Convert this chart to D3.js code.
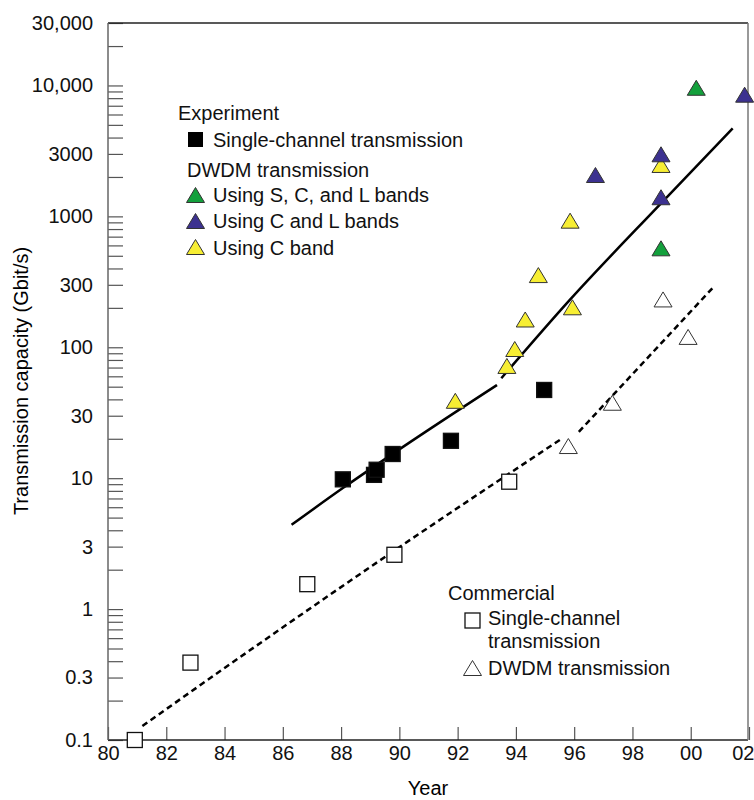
<!DOCTYPE html>
<html>
<head>
<meta charset="utf-8">
<script src="https://cdn.jsdelivr.net/npm/d3@7"></script>
<style>
  body { margin: 0; background: #fff; }
  text { font-family: "Liberation Sans", Arial, Helvetica, sans-serif; }
</style>
</head>
<body>
<svg id="chart"></svg>
<script>

// experiment, single channel (year, Gbit/s)
var expSingle = [[88.06, 9.8], [89.13, 10.6], [89.22, 11.6], [89.77, 15.3], [91.77, 19.3], [94.97, 47.2]];

// experiment, DWDM
var dwdmSCL = [[98.98, 570], [100.19, 9600]];
var dwdmCL = [[96.73, 2070], [98.98, 2980], [98.98, 1400], [101.85, 8500]];
var dwdmC = [[91.92, 39], [93.69, 72], [93.96, 97], [94.32, 163], [94.77, 356], [95.86, 927], [95.94, 202], [98.98, 2470]];

// commercial
var commSingle = [[80.92, 0.1], [82.83, 0.39], [86.84, 1.55], [89.83, 2.6], [93.77, 9.4]];
var commDWDM = [[95.8, 17.6], [97.31, 37.7], [99.05, 232], [99.91, 120]];

// trend lines
var expTrend1 = [[86.3, 4.4], [88.06, 8.4], [90.1, 17.2], [93.35, 51.5]];
var expTrend2 = [[93.5, 58], [95.85, 230], [98.98, 1257], [101.44, 4700]];
var commTrend1 = [[81.18, 0.128], [85.9, 0.7], [89.83, 2.8], [95.54, 19.8]];
var commTrend2 = [[96.16, 22.6], [100.79, 290]];

var yearTicks = [80, 82, 84, 86, 88, 90, 92, 94, 96, 98, 100, 102];
var yLabels = {0.1: "0.1", 0.3: "0.3", 1: "1", 3: "3", 10: "10", 30: "30", 100: "100",
               300: "300", 1000: "1000", 3000: "3000", 10000: "10,000", 30000: "30,000"};

var colors = { scl: "#13a03c", cl: "#3c3190", c: "#f7ee33" };

var width = 754, height = 800;

var svg = d3.select("#chart")
            .attr("width", width)
            .attr("height", height)

var xScale = d3.scaleLinear()
               .domain([80, 102])
               .range([108, 749])

var yScale = d3.scaleLog()
               .domain([0.1, 30000])
               .range([740, 23])

// every 1..9 tick of each decade
var yTicks = [];
for (var p = -1; p <= 4; p++) {
    for (var m = 1; m <= 9; m++) {
        var v = +(m * Math.pow(10, p)).toPrecision(3);
        if (v <= 30000) yTicks.push(v);
    }
}

var xAxisgen = d3.axisBottom(xScale)
                 .tickValues(yearTicks)
                 .tickSizeInner(-13)
                 .tickSizeOuter(0)
                 .tickPadding(6)
                 .tickFormat(function (d) { return String(d % 100).padStart(2, "0"); });

var yAxisgen = d3.axisLeft(yScale)
                 .tickValues(yTicks)
                 .tickSizeInner(-15)
                 .tickSizeOuter(0)
                 .tickPadding(15)
                 .tickFormat(function (d) { return yLabels[d] || ""; });

var xAxis = svg.append("g")
    .attr("transform", "translate(0,740)")
    .call(xAxisgen)

var yAxis = svg.append("g")
    .attr("transform", "translate(108,0)")
    .call(yAxisgen)

svg.selectAll(".domain").remove();
svg.selectAll(".tick line").attr("stroke", "#555").attr("stroke-width", 1.2);
svg.selectAll(".tick text").attr("fill", "#111").style("font-size", "20px");

// last year label sits at the right edge of the page
xAxis.selectAll(".tick text")
    .filter(function (d) { return d === 102; })
    .attr("text-anchor", "end")
    .attr("x", 5)

// frame
svg.append("line").attr("x1", 108).attr("x2", 748).attr("y1", 740).attr("y2", 740).attr("stroke", "#222").attr("stroke-width", 1.5);
svg.append("line").attr("x1", 108).attr("x2", 748).attr("y1", 23).attr("y2", 23).attr("stroke", "#222").attr("stroke-width", 1.5);
svg.append("line").attr("x1", 108).attr("x2", 108).attr("y1", 23).attr("y2", 740).attr("stroke", "#666").attr("stroke-width", 1.5);
svg.append("line").attr("x1", 748).attr("x2", 748).attr("y1", 23).attr("y2", 740).attr("stroke", "#777").attr("stroke-width", 1.5);

// axis titles
svg.append("text")
    .attr("x", 428)
    .attr("y", 795)
    .attr("text-anchor", "middle")
    .style("font-size", "20px")
    .text("Year")

svg.append("text")
    .attr("transform", "translate(28,381) rotate(-90)")
    .attr("text-anchor", "middle")
    .style("font-size", "20px")
    .text("Transmission capacity (Gbit/s)")

// trend lines
var line = d3.line()
             .x(function (d) { return xScale(d[0]); })
             .y(function (d) { return yScale(d[1]); })
             .curve(d3.curveMonotoneX)

;[expTrend1, expTrend2].forEach(function (t) {
    svg.append("path").attr("d", line(t)).attr("fill", "none")
       .attr("stroke", "#000").attr("stroke-width", 2.5);
});
;[commTrend1, commTrend2].forEach(function (t) {
    svg.append("path").attr("d", line(t)).attr("fill", "none")
       .attr("stroke", "#000").attr("stroke-width", 2.5)
       .attr("stroke-dasharray", "6,4");
});

function triangle(cx, cy) {
    return "M" + (cx - 9) + "," + (cy + 7.5) + "L" + cx + "," + (cy - 7.5) + "L" + (cx + 9) + "," + (cy + 7.5) + "Z";
}

function drawSquares(data, fill) {
    svg.selectAll(null)
        .data(data)
        .enter()
        .append("rect")
        .attr("x", function (d) { return xScale(d[0]) - 7.5; })
        .attr("y", function (d) { return yScale(d[1]) - 7.5; })
        .attr("width", 15)
        .attr("height", 15)
        .attr("fill", fill)
        .attr("stroke", "#111")
        .attr("stroke-width", 1.3)
}

function drawTriangles(data, fill) {
    svg.selectAll(null)
        .data(data)
        .enter()
        .append("path")
        .attr("d", function (d) { return triangle(xScale(d[0]), yScale(d[1])); })
        .attr("fill", fill)
        .attr("stroke", "#333")
        .attr("stroke-width", 1)
}

drawSquares(commSingle, "#fff");
drawTriangles(commDWDM, "#fff");
drawSquares(expSingle, "#000");
drawTriangles(dwdmC, colors.c);
drawTriangles(dwdmSCL, colors.scl);
drawTriangles(dwdmCL, colors.cl);

// legends
function label(x, y, s) {
    svg.append("text").attr("x", x).attr("y", y).style("font-size", "20px").attr("fill", "#111").text(s);
}

label(178, 120, "Experiment");
svg.append("rect").attr("x", 188).attr("y", 132).attr("width", 15).attr("height", 15).attr("fill", "#000");
label(213, 147, "Single-channel transmission");
label(187, 177, "DWDM transmission");
svg.append("path").attr("d", triangle(195.5, 195)).attr("fill", colors.scl).attr("stroke", "#333");
label(213, 202, "Using S, C, and L bands");
svg.append("path").attr("d", triangle(195.5, 221)).attr("fill", colors.cl).attr("stroke", "#333");
label(213, 228, "Using C and L bands");
svg.append("path").attr("d", triangle(195.5, 247)).attr("fill", colors.c).attr("stroke", "#333");
label(213, 255, "Using C band");

label(448, 600, "Commercial");
svg.append("rect").attr("x", 465).attr("y", 613).attr("width", 15).attr("height", 15).attr("fill", "#fff").attr("stroke", "#111").attr("stroke-width", 1.3);
label(488, 625, "Single-channel");
label(488, 648, "transmission");
svg.append("path").attr("d", triangle(472.5, 668)).attr("fill", "#fff").attr("stroke", "#333");
label(488, 675, "DWDM transmission");

</script>
</body>
</html>
